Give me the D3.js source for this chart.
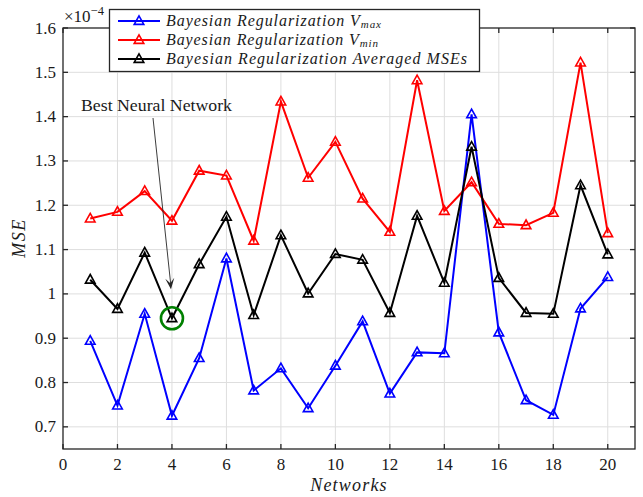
<!DOCTYPE html>
<html><head><meta charset="utf-8">
<script src="https://cdn.jsdelivr.net/npm/d3@7"></script>
<style>body{margin:0;background:#fff}svg{display:block}</style>
</head><body>
<svg id="c" width="643" height="497"></svg>
<script>
// ---- data (values in units of 1e-4) ----
const networks = [1,2,3,4,5,6,7,8,9,10,11,12,13,14,15,16,17,18,19,20];
const vMax = [0.894,0.748,0.955,0.725,0.855,1.080,0.782,0.832,0.742,0.838,0.938,0.775,0.868,0.866,1.405,0.913,0.760,0.727,0.967,1.038];
const vMin = [1.170,1.185,1.232,1.165,1.278,1.267,1.120,1.434,1.262,1.343,1.215,1.140,1.482,1.187,1.252,1.158,1.155,1.183,1.522,1.137];
const avgMSE = [1.032,0.966,1.093,0.945,1.067,1.174,0.952,1.132,1.001,1.090,1.077,0.957,1.176,1.025,1.332,1.036,0.957,0.955,1.245,1.089];
const xTicks = [0,2,4,6,8,10,12,14,16,18,20];
const yTicks = [0.7,0.8,0.9,1.0,1.1,1.2,1.3,1.4,1.5,1.6];
const yTickLabels = ["0.7","0.8","0.9","1","1.1","1.2","1.3","1.4","1.5","1.6"];
const seriesNames = ["Bayesian Regularization V", "Bayesian Regularization V", "Bayesian Regularization Averaged MSEs"];
const seriesSubs = ["max", "min", ""];
const seriesColors = ["#0000ff", "#ff0000", "#000000"];
const bestIndex = 3; // network 4
const annotationText = "Best Neural Network";

const svg = d3.select("#c");
const L = 63, R = 635, T = 28, B = 449;
const x = d3.scaleLinear().domain([0, 21]).range([L, R]);
const y = d3.scaleLinear().domain([0.65, 1.6]).range([B, T]);
const serif = "Liberation Serif, DejaVu Serif, serif";
const frame = "#262626";

// grid
const g = svg.append("g");
g.selectAll(".gx").data(xTicks.filter(t => t > 0)).join("line")
  .attr("x1", d => x(d)).attr("x2", d => x(d)).attr("y1", T).attr("y2", B)
  .attr("stroke", "#dedede").attr("stroke-width", 1);
g.selectAll(".gy").data(yTicks.filter(t => t < 1.6)).join("line")
  .attr("x1", L).attr("x2", R).attr("y1", d => y(d)).attr("y2", d => y(d))
  .attr("stroke", "#dedede").attr("stroke-width", 1);

// series
const sets = [vMax, vMin, avgMSE];
const tri = "M0,-5.2L4.8,3.4L-4.8,3.4Z";
sets.forEach((vals, i) => {
  const pts = networks.map((n, j) => [n, vals[j]]);
  svg.append("path").datum(pts)
    .attr("d", d3.line().x(d => x(d[0])).y(d => y(d[1])))
    .attr("fill", "none").attr("stroke", seriesColors[i]).attr("stroke-width", 2)
    .attr("stroke-linejoin", "miter");
  svg.append("g").selectAll("path").data(pts).join("path")
    .attr("d", tri)
    .attr("transform", d => `translate(${x(d[0])},${y(d[1])})`)
    .attr("fill", "none").attr("stroke", seriesColors[i]).attr("stroke-width", 1.6);
});

// axes frame + ticks (inward, all sides)
const ax = svg.append("g");
ax.append("rect").attr("x", L).attr("y", T).attr("width", R - L).attr("height", B - T)
  .attr("fill", "none").attr("stroke", frame).attr("stroke-width", 1.3);
const tl = 5;
xTicks.forEach(t => {
  ax.append("line").attr("x1", x(t)).attr("x2", x(t)).attr("y1", B).attr("y2", B - tl).attr("stroke", frame).attr("stroke-width", 1.3);
  ax.append("line").attr("x1", x(t)).attr("x2", x(t)).attr("y1", T).attr("y2", T + tl).attr("stroke", frame).attr("stroke-width", 1.3);
  ax.append("text").attr("x", x(t)).attr("y", 470).attr("text-anchor", "middle")
    .attr("font-family", serif).attr("font-size", 17).attr("fill", "#1a1a1a").text(t);
});
yTicks.forEach((t, i) => {
  ax.append("line").attr("x1", L).attr("x2", L + tl).attr("y1", y(t)).attr("y2", y(t)).attr("stroke", frame).attr("stroke-width", 1.3);
  ax.append("line").attr("x1", R).attr("x2", R - tl).attr("y1", y(t)).attr("y2", y(t)).attr("stroke", frame).attr("stroke-width", 1.3);
  ax.append("text").attr("x", 56).attr("y", y(t) + 5.5).attr("text-anchor", "end")
    .attr("font-family", serif).attr("font-size", 17).attr("fill", "#1a1a1a").text(yTickLabels[i]);
});

// exponent label
const ex = svg.append("text").attr("x", 64).attr("y", 22).attr("font-family", serif).attr("font-size", 17).attr("fill", "#1a1a1a");
ex.append("tspan").text("\u00d710");
ex.append("tspan").attr("dy", -7).attr("font-size", 12.5).text("\u22124");

// axis labels
svg.append("text").attr("x", (L + R) / 2).attr("y", 491).attr("text-anchor", "middle")
  .attr("font-family", serif).attr("font-style", "italic").attr("font-size", 18)
  .attr("letter-spacing", 1.2).attr("fill", "#1a1a1a").text("Networks");
svg.append("text").attr("transform", "translate(25,238) rotate(-90)").attr("text-anchor", "middle")
  .attr("font-family", serif).attr("font-style", "italic").attr("font-size", 18)
  .attr("letter-spacing", 1.5).attr("fill", "#1a1a1a").text("MSE");

// annotation
const bx = x(networks[bestIndex]), by = y(avgMSE[bestIndex]);
svg.append("circle").attr("cx", bx).attr("cy", by).attr("r", 11)
  .attr("fill", "none").attr("stroke", "#008000").attr("stroke-width", 2.6);
const ax0 = 153, ay0 = 118, ax1 = bx - 1, ay1 = by - 29;
svg.append("line").attr("x1", ax0).attr("y1", ay0).attr("x2", ax1).attr("y2", ay1 - 3)
  .attr("stroke", "#262626").attr("stroke-width", 0.9);
const ang = Math.atan2(ay1 - ay0, ax1 - ax0);
const hl = 11, hw = 4.5;
const bxh = ax1 - hl * Math.cos(ang), byh = ay1 - hl * Math.sin(ang);
const nxp = -Math.sin(ang), nyp = Math.cos(ang);
svg.append("path")
  .attr("d", `M${ax1},${ay1}L${bxh + hw * nxp},${byh + hw * nyp}L${ax1 - 6*Math.cos(ang)},${ay1 - 6*Math.sin(ang)}L${bxh - hw * nxp},${byh - hw * nyp}Z`)
  .attr("fill", "#262626");
svg.append("text").attr("x", 81).attr("y", 111).attr("font-family", serif).attr("font-size", 16)
  .attr("textLength", 151).attr("lengthAdjust", "spacingAndGlyphs").attr("fill", "#1a1a1a").text(annotationText);

// legend
const lg = svg.append("g");
lg.append("rect").attr("x", 109.5).attr("y", 9.5).attr("width", 370).attr("height", 62)
  .attr("fill", "#fff").attr("stroke", frame).attr("stroke-width", 1.3);
const legY = [21, 40, 59];
const legW = [215, 212, 301];
seriesNames.forEach((name, i) => {
  lg.append("line").attr("x1", 118).attr("x2", 160).attr("y1", legY[i]).attr("y2", legY[i])
    .attr("stroke", seriesColors[i]).attr("stroke-width", 2);
  lg.append("path").attr("d", tri).attr("transform", `translate(139,${legY[i]})`)
    .attr("fill", "none").attr("stroke", seriesColors[i]).attr("stroke-width", 1.6);
  const t = lg.append("text").attr("x", 166).attr("y", legY[i] + 5)
    .attr("font-family", serif).attr("font-style", "italic").attr("font-size", 16)
    .attr("fill", "#1a1a1a").attr("textLength", legW[i]).attr("lengthAdjust", "spacing");
  t.append("tspan").text(name);
  if (seriesSubs[i]) t.append("tspan").attr("dy", 2).attr("font-size", 11).text(seriesSubs[i]);
});
</script>
</body></html>
